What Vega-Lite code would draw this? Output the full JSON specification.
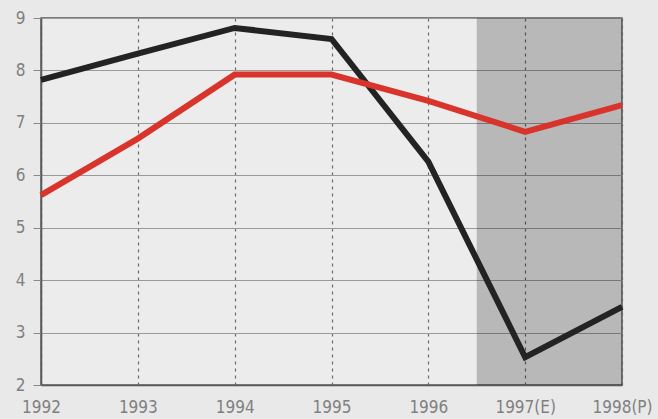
{
  "$schema": "https://vega.github.io/schema/vega-lite/v6.json",
  "width": 581,
  "height": 367,
  "autosize": {"type": "none"},
  "padding": {"left": 41, "top": 18, "right": 36, "bottom": 34},
  "background": "#e9e9e9",
  "config": {
    "view": {"stroke": "#5a5a5a", "strokeWidth": 1.5, "fill": "#ececec"},
    "axis": {
      "labelFont": "Liberation Sans Narrow, DejaVu Sans Condensed, sans-serif",
      "labelFontSize": 17,
      "labelColor": "#808080",
      "domainColor": "#5a5a5a",
      "domainWidth": 1.5,
      "titleFontSize": 0
    }
  },
  "datasets": {
    "series": [
      {"year": 1992, "name": "black", "value": 7.82},
      {"year": 1993, "name": "black", "value": 8.32},
      {"year": 1994, "name": "black", "value": 8.81},
      {"year": 1995, "name": "black", "value": 8.6},
      {"year": 1996, "name": "black", "value": 6.26},
      {"year": 1997, "name": "black", "value": 2.53},
      {"year": 1998, "name": "black", "value": 3.49},
      {"year": 1992, "name": "red", "value": 5.62},
      {"year": 1993, "name": "red", "value": 6.7},
      {"year": 1994, "name": "red", "value": 7.92},
      {"year": 1995, "name": "red", "value": 7.92},
      {"year": 1996, "name": "red", "value": 7.42},
      {"year": 1997, "name": "red", "value": 6.83},
      {"year": 1998, "name": "red", "value": 7.34}
    ],
    "forecast": [
      {"start": 1996.5, "end": 1998}
    ]
  },
  "layer": [
    {
      "data": {"name": "forecast"},
      "mark": {"type": "rect", "fill": "#000000", "opacity": 0.22},
      "encoding": {
        "x": {
          "field": "start",
          "type": "quantitative",
          "scale": {"domain": [1992, 1998], "nice": false, "zero": false},
          "axis": {
            "values": [1992, 1993, 1994, 1995, 1996, 1997, 1998],
            "labelExpr": "datum.value == 1997 ? '1997(E)' : datum.value == 1998 ? '1998(P)' : '' + datum.value",
            "labelFontSize": 17,
            "labelFlush": false,
            "labelOverlap": false,
            "labelPadding": 14,
            "ticks": false,
            "grid": true,
            "gridColor": "#6a6a6a",
            "gridDash": [3, 4],
            "gridWidth": 1.2,
            "title": null
          }
        },
        "x2": {"field": "end"},
        "y": {"datum": 2, "type": "quantitative"},
        "y2": {"datum": 9}
      }
    },
    {
      "data": {"name": "series"},
      "mark": {"type": "line", "strokeWidth": 6, "strokeJoin": "miter", "strokeCap": "butt"},
      "encoding": {
        "x": {"field": "year", "type": "quantitative"},
        "y": {
          "field": "value",
          "type": "quantitative",
          "scale": {"domain": [2, 9], "nice": false, "zero": false},
          "axis": {
            "values": [2, 3, 4, 5, 6, 7, 8, 9],
            "format": "d",
            "tickSize": 8,
            "tickColor": "#8a8a8a",
            "labelPadding": 8,
            "grid": true,
            "gridColor": "#9a9a9a",
            "gridWidth": 1,
            "title": null
          }
        },
        "color": {
          "field": "name",
          "type": "nominal",
          "scale": {"domain": ["black", "red"], "range": ["#232323", "#d8342c"]},
          "legend": null
        }
      }
    }
  ]
}
